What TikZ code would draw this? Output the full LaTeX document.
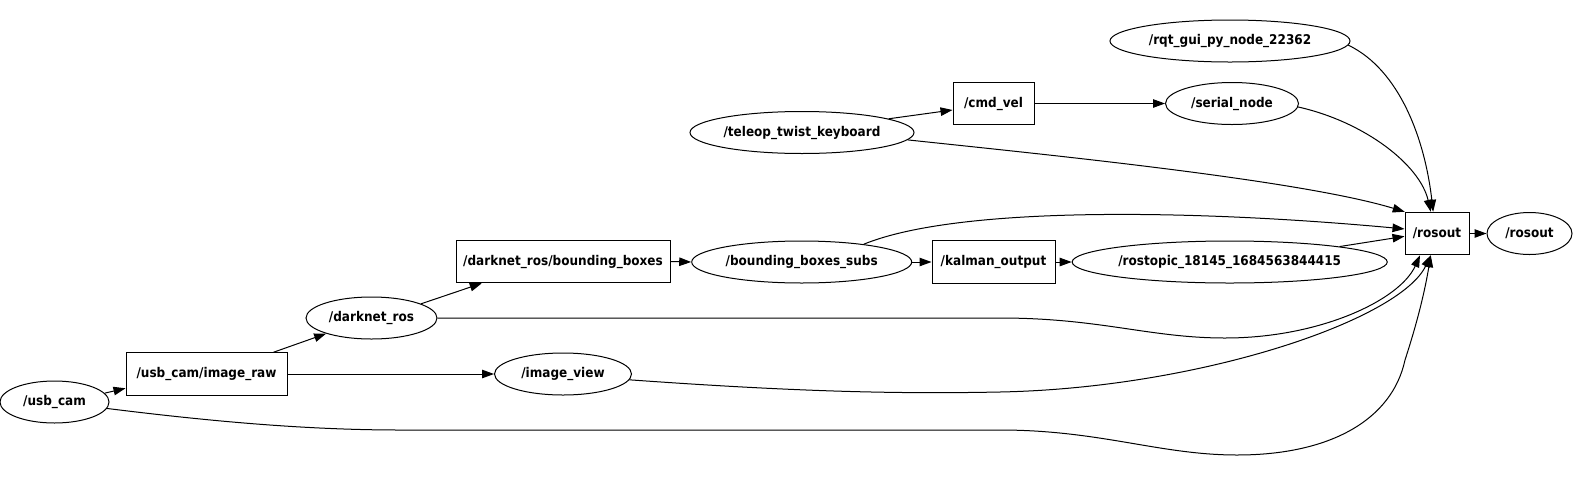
\documentclass[tikz,border=0pt]{standalone}
\usepackage{fontspec}
\setmainfont{DejaVu Sans Condensed Bold}
\usetikzlibrary{shapes.geometric,arrows.meta}
\begin{document}
\begin{tikzpicture}[x=1pt,y=-1pt,
  font=\fontsize{13.4}{15}\selectfont,
  ell/.style={draw, ellipse, inner sep=0pt, minimum height=42pt, line width=1pt},
  topic/.style={draw, rectangle, inner sep=0pt, minimum height=42.5pt, line width=1pt},
  conn/.style={-{Triangle[length=12pt,width=8.5pt]}, line width=1pt}]
\useasboundingbox (0,0) rectangle (1575,483);
% nodes
\node[ell, minimum width=109pt] (usbcam) at (54.5,402) {/usb\_cam};
\node[topic, minimum width=161pt] (raw) at (206.5,374) {/usb\_cam/image\_raw};
\node[ell, minimum width=131pt] (darknet) at (371.5,318) {/darknet\_ros};
\node[ell, minimum width=137pt] (imgview) at (563,374) {/image\_view};
\node[topic, minimum width=214pt] (bbox) at (563,261.5) {/darknet\_ros/bounding\_boxes};
\node[ell, minimum width=220pt] (bbsubs) at (801.7,262) {/bounding\_boxes\_subs};
\node[topic, minimum width=123pt] (kalman) at (993.5,262) {/kalman\_output};
\node[ell, minimum width=314pt] (rostopic) at (1229.7,262) {/rostopic\_18145\_1684563844415};
\node[topic, minimum width=64pt] (rosoutbox) at (1437,233.5) {/rosout};
\node[ell, minimum width=85pt] (rosoutell) at (1529.5,233.5) {/rosout};
\node[ell, minimum width=224pt] (teleop) at (802,132.5) {/teleop\_twist\_keyboard};
\node[topic, minimum width=81pt] (cmdvel) at (993.5,103.5) {/cmd\_vel};
\node[ell, minimum width=133pt] (serial) at (1232,103.5) {/serial\_node};
\node[ell, minimum width=240pt] (rqt) at (1230,41) {/rqt\_gui\_py\_node\_22362};
% straight connectors
\draw[conn] (usbcam.10) -- (raw.190.6);
\draw[conn] (raw.18) -- (darknet.199);
\draw[conn] (raw.east) -- (imgview.west);
\draw[conn] (darknet.16.5) -- (bbox.195.7);
\draw[conn] (bbox.east) -- (bbsubs.west);
\draw[conn] (bbsubs.east) -- (kalman.west);
\draw[conn] (kalman.east) -- (rostopic.west);
\draw[conn] (rostopic.8) -- (rosoutbox.185);
\draw[conn] (teleop.9.3) -- (cmdvel.189);
\draw[conn] (cmdvel.east) -- (serial.west);
\draw[conn] (rosoutbox.east) -- (rosoutell.west);
% curved connectors into /rosout
\draw[conn] (bbsubs.16.7) .. controls (960,205) and (1200,210) .. (rosoutbox.172);
\draw[conn] (teleop.-4.4) .. controls (1050,155) and (1300,180) .. (rosoutbox.146);
\draw[conn] (serial.-3.9) .. controls (1365,122) and (1420,165) .. (rosoutbox.106);
\draw[conn] (rqt.-2.9) .. controls (1400,70) and (1425,140) .. (rosoutbox.100);
\draw[conn] (darknet.east) -- (1000,318) .. controls (1100,318) and (1150,338) .. (1225,338)
  .. controls (1320,338) and (1400,300) .. (rosoutbox.232);
\draw[conn] (imgview.-5) .. controls (800,392) and (900,394) .. (1000,392)
  .. controls (1200,388) and (1400,320) .. (rosoutbox.254);
\draw[conn] (usbcam.-7.6) .. controls (200,420) and (300,430) .. (400,430) -- (1000,430)
  .. controls (1100,430) and (1160,455) .. (1237,455)
  .. controls (1330,455) and (1392,420) .. (1405,360)
  .. controls (1418,320) and (1425,290) .. (rosoutbox.254);
\end{tikzpicture}
\end{document}
